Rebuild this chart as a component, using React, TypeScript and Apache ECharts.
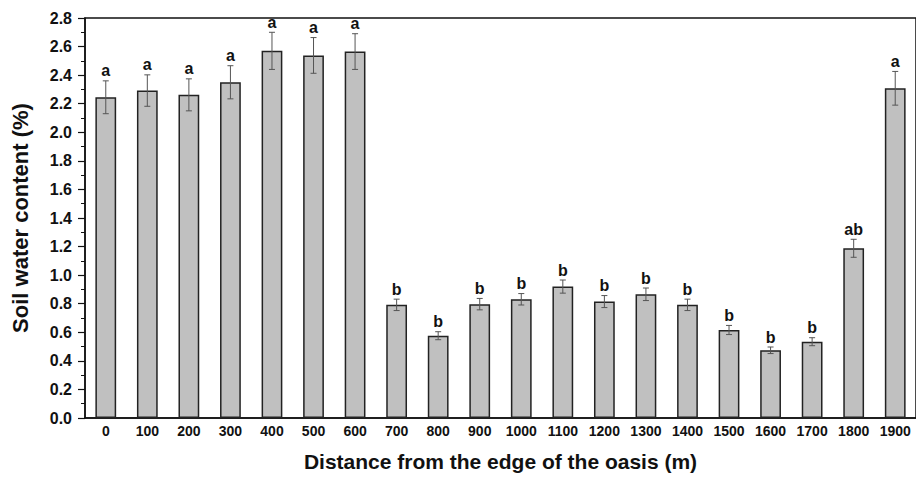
import React, { useEffect, useRef } from "react";
import * as echarts from "echarts";

const categories = ["0", "100", "200", "300", "400", "500", "600", "700", "800", "900", "1000", "1100", "1200", "1300", "1400", "1500", "1600", "1700", "1800", "1900"];
const means = [2.245, 2.292, 2.262, 2.35, 2.57, 2.538, 2.565, 0.792, 0.576, 0.797, 0.831, 0.92, 0.815, 0.866, 0.792, 0.616, 0.474, 0.534, 1.188, 2.308];
const errors = [0.115, 0.11, 0.112, 0.116, 0.13, 0.125, 0.125, 0.04, 0.028, 0.04, 0.04, 0.046, 0.042, 0.044, 0.04, 0.032, 0.023, 0.028, 0.063, 0.118];
const letters = ["a", "a", "a", "a", "a", "a", "a", "b", "b", "b", "b", "b", "b", "b", "b", "b", "b", "b", "ab", "a"];

const FONT = "'Liberation Sans', Arial, Helvetica, sans-serif";

export default function App() {
  const ref = useRef<HTMLDivElement>(null);
  useEffect(() => {
    document.body.style.margin = "0";
    if (!ref.current) return;
    const chart = echarts.init(ref.current, null, { renderer: "svg" });
    const errData = means.map((m, i) => [i, m, errors[i]]);
    chart.setOption({
      animation: false,
      backgroundColor: "#ffffff",
      grid: {
        left: 85,
        right: 0,
        top: 18,
        bottom: 56,
        show: true,
        borderColor: "#111",
        borderWidth: 1.5,
        containLabel: false,
      },
      xAxis: {
        type: "category",
        data: categories,
        name: "Distance from the edge of the oasis (m)",
        nameLocation: "middle",
        nameGap: 33,
        nameTextStyle: { fontFamily: FONT, fontWeight: "bold", fontSize: 21, color: "#111" },
        axisLine: { lineStyle: { color: "#111", width: 1.5 } },
        axisTick: { show: false },
        axisLabel: { fontFamily: FONT, fontWeight: "bold", fontSize: 14, color: "#111", margin: 6, interval: 0 },
        splitLine: { show: false },
      },
      yAxis: {
        type: "value",
        min: 0,
        max: 2.8,
        interval: 0.2,
        name: "Soil water content (%)",
        nameLocation: "middle",
        nameGap: 54,
        nameTextStyle: { fontFamily: FONT, fontWeight: "bold", fontSize: 22, color: "#111" },
        axisLine: { show: true, lineStyle: { color: "#111", width: 1.5 } },
        axisTick: { show: true, length: 7, lineStyle: { color: "#111", width: 1.2 } },
        minorTick: { show: true, splitNumber: 2, length: 4, lineStyle: { color: "#111", width: 1 } },
        axisLabel: {
          fontFamily: FONT,
          fontWeight: "bold",
          fontSize: 16,
          color: "#111",
          margin: 13,
          formatter: (v: number) => v.toFixed(1),
        },
        splitLine: { show: false },
      },
      series: [
        {
          type: "bar",
          data: means,
          barWidth: "50%",
          itemStyle: { color: "#c0c0c0", borderColor: "#222", borderWidth: 1.5 },
        },
        {
          type: "custom",
          data: errData,
          z: 10,
          renderItem: (params: any, api: any) => {
            const i = api.value(0);
            const m = api.value(1);
            const e = api.value(2);
            const top = api.coord([i, m + e]);
            const bot = api.coord([i, m - e]);
            const cap = 3;
            const style = { stroke: "#555", lineWidth: 1 };
            return {
              type: "group",
              children: [
                { type: "line", shape: { x1: top[0], y1: top[1], x2: bot[0], y2: bot[1] }, style },
                { type: "line", shape: { x1: top[0] - cap, y1: top[1], x2: top[0] + cap, y2: top[1] }, style },
                { type: "line", shape: { x1: bot[0] - cap, y1: bot[1], x2: bot[0] + cap, y2: bot[1] }, style },
                {
                  type: "text",
                  x: top[0],
                  y: top[1] - 2,
                  style: {
                    text: letters[params.dataIndex],
                    fontFamily: FONT,
                    fontWeight: "bold",
                    fontSize: 16,
                    fill: "#111",
                    align: "center",
                    verticalAlign: "bottom",
                  },
                },
              ],
            };
          },
        },
      ],
    });
    return () => chart.dispose();
  }, []);
  return <div ref={ref} style={{ width: 916, height: 477 }} />;
}
